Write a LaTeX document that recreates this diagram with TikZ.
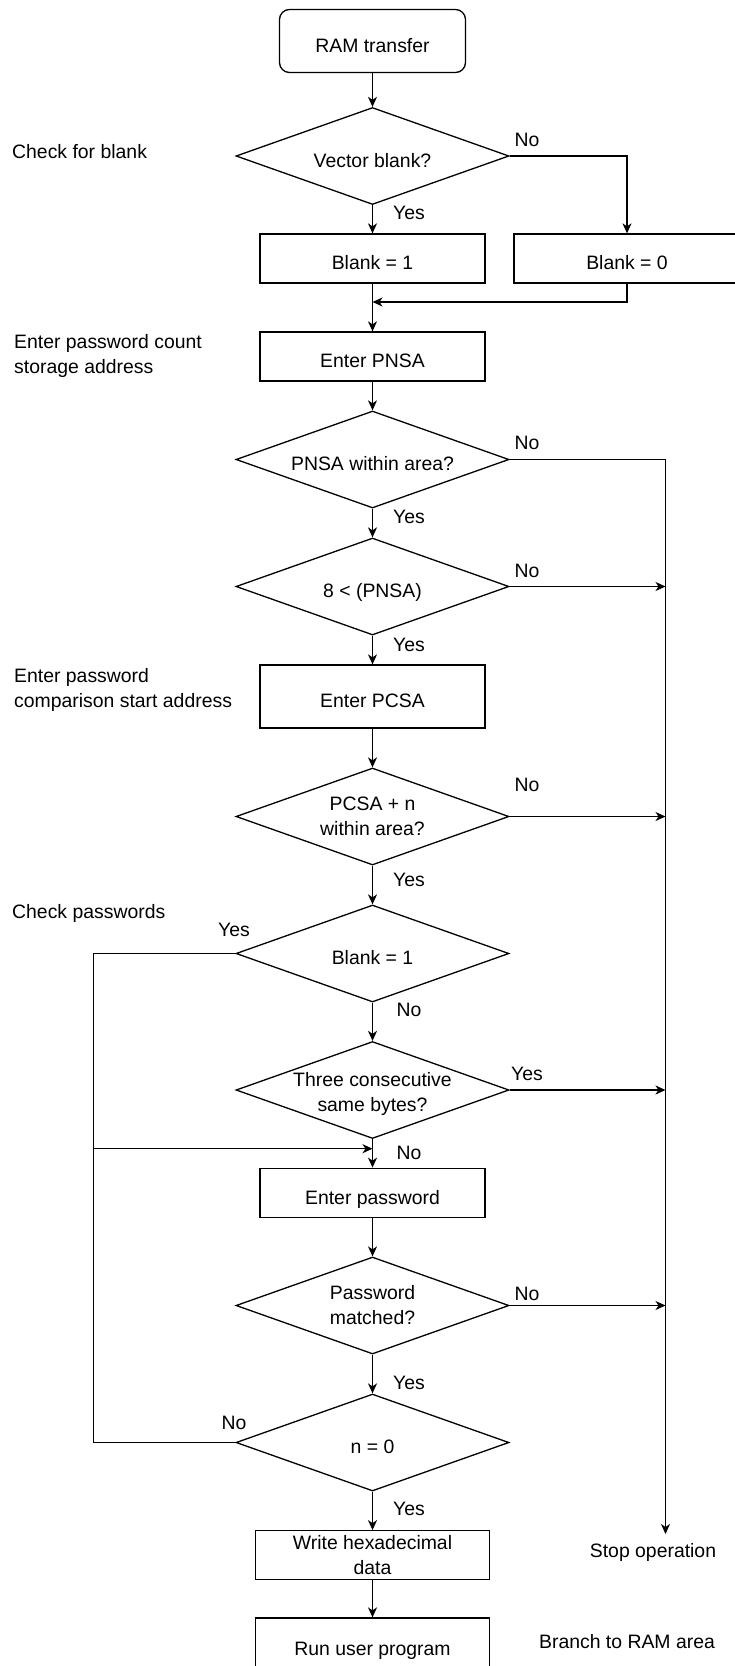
\documentclass[tikz,border=0pt]{standalone}
\usepackage{fontspec}
\setmainfont{Liberation Sans}
\usetikzlibrary{shapes.geometric,arrows.meta}
\begin{document}
\begin{tikzpicture}[x=1pt,y=-1pt,
  every node/.style={font=\fontsize{19.4}{25}\selectfont},
  ln/.style={line width=1.3pt,line join=miter},
  arr/.style={ln,-{Stealth[length=10pt,width=9pt,inset=3pt]}},
  low/.style={text height=22pt,text depth=0pt},
  procbox/.style={draw,line width=1.3pt,rectangle,minimum width=225pt,minimum height=49pt,inner sep=0pt,align=center},
  onebox/.style={procbox,low},
  widebox/.style={procbox,minimum width=234pt,minimum height=48.5pt},
  startbox/.style={draw,line width=1.3pt,rectangle,rounded corners=10pt,minimum width=186pt,minimum height=63pt,inner sep=0pt,low},
  dec/.style={draw,line width=1.3pt,diamond,minimum width=273pt,minimum height=97pt,inner sep=0pt},
  dtext/.style={align=center,inner sep=0pt},
  dtextone/.style={inner sep=0pt,low},
  side/.style={align=left,anchor=west,inner sep=0pt},
  lab/.style={inner sep=0pt}
]
\useasboundingbox (0,0) rectangle (734,1666);

% main column
\node[startbox] (ram) at (372.5,41) {RAM transfer};
\node[dec,label={[dtextone]center:Vector blank?}] (d1) at (372.5,156) {};
\node[onebox] (b1) at (372.5,258.5) {Blank = 1};
\node[procbox,minimum width=226pt] (b0) at (627,258.5) {\hspace*{0pt}};
\node[lab,low] (b0t) at (627,258.5) {Blank = 0};
\node[onebox] (pnsa) at (372.5,356.5) {Enter PNSA};
\node[dec,label={[dtextone]center:PNSA within area?}] (d2) at (372.5,459.5) {};
\node[dec,label={[dtextone]center:8 < (PNSA)}] (d3) at (372.5,586.5) {};
\node[onebox,minimum height=63pt] (pcsa) at (372.5,696.5) {Enter PCSA};
\node[dec,label={[dtext]center:PCSA + n\\within area?}] (d4) at (372.5,816.5) {};
\node[dec,label={[dtextone]center:Blank = 1}] (d5) at (372.5,953.5) {};
\node[dec,label={[dtext,yshift=-4pt]center:Three consecutive\\same bytes?}] (d6) at (372.5,1090) {};
\node[onebox,minimum height=49.5pt] (pw) at (372.5,1193) {Enter password};
\node[dec,label={[dtext]center:Password\\matched?}] (d7) at (372.5,1305.5) {};
\node[dec,label={[dtextone]center:n = 0}] (d8) at (372.5,1442.5) {};
\node[widebox] (hex) at (372.5,1555) {Write hexadecimal\\data};
\node[widebox,low,minimum height=52pt] (run) at (372.5,1644) {Run user program};

% side texts
\node[side] (s1) at (12,152) {Check for blank};
\node[side] (s2) at (14,356) {Enter password count\\storage address};
\node[side] (s3) at (14,690) {Enter password\\comparison start address};
\node[side] (s4) at (12,913) {Check passwords};
\node[lab] (stop) at (653,1552) {Stop operation};
\node[lab] (branch) at (627,1642) {Branch to RAM area};

% helper coordinates
\coordinate (merge) at (372.5,302);
\coordinate (stopend) at (665.5,1534);
\coordinate (lbot) at (93.6,1442.5);
\coordinate (join) at (372.5,1148.7);

% connectors
\draw[arr] (ram.south) -- (d1.north);
\draw[arr] (d1.south) -- (b1.north);
\draw[arr] (d1.east) -| (b0.north);
\draw[arr] (b1.south) -- (pnsa.north);
\draw[arr] (b0.south) |- (merge);
\draw[arr] (pnsa.south) -- (d2.north);
\draw[arr] (d2.east) -| (stopend);
\draw[arr] (d2.south) -- (d3.north);
\draw[arr] (d3.east) -- (d3.east -| stopend);
\draw[arr] (d3.south) -- (pcsa.north);
\draw[arr] (pcsa.south) -- (d4.north);
\draw[arr] (d4.east) -- (d4.east -| stopend);
\draw[arr] (d4.south) -- (d5.north);
\draw[ln] (d5.west) -| (lbot) -- (d8.west);
\draw[arr] (join -| lbot) -- (join);
\draw[arr] (d5.south) -- (d6.north);
\draw[arr] (d6.east) -- (d6.east -| stopend);
\draw[arr] (d6.south) -- (pw.north);
\draw[arr] (pw.south) -- (d7.north);
\draw[arr] (d7.east) -- (d7.east -| stopend);
\draw[arr] (d7.south) -- (d8.north);
\draw[arr] (d8.south) -- (hex.north);
\draw[arr] (hex.south) -- (run.north);

% branch labels
\node[lab] (l1n) at (527,140) {No};
\node[lab] (l1y) at (409,213) {Yes};
\node[lab] (l2n) at (527,443) {No};
\node[lab] (l2y) at (409,517) {Yes};
\node[lab] (l3n) at (527,571) {No};
\node[lab] (l3y) at (409,645) {Yes};
\node[lab] (l4n) at (527,785) {No};
\node[lab] (l4y) at (409,880) {Yes};
\node[lab] (l5y) at (234,930) {Yes};
\node[lab] (l5n) at (409,1010) {No};
\node[lab] (l6y) at (527,1074) {Yes};
\node[lab] (l6n) at (409,1153) {No};
\node[lab] (l7n) at (527,1294) {No};
\node[lab] (l7y) at (409,1383) {Yes};
\node[lab] (l8n) at (234,1423) {No};
\node[lab] (l8y) at (409,1509) {Yes};
\end{tikzpicture}
\end{document}
